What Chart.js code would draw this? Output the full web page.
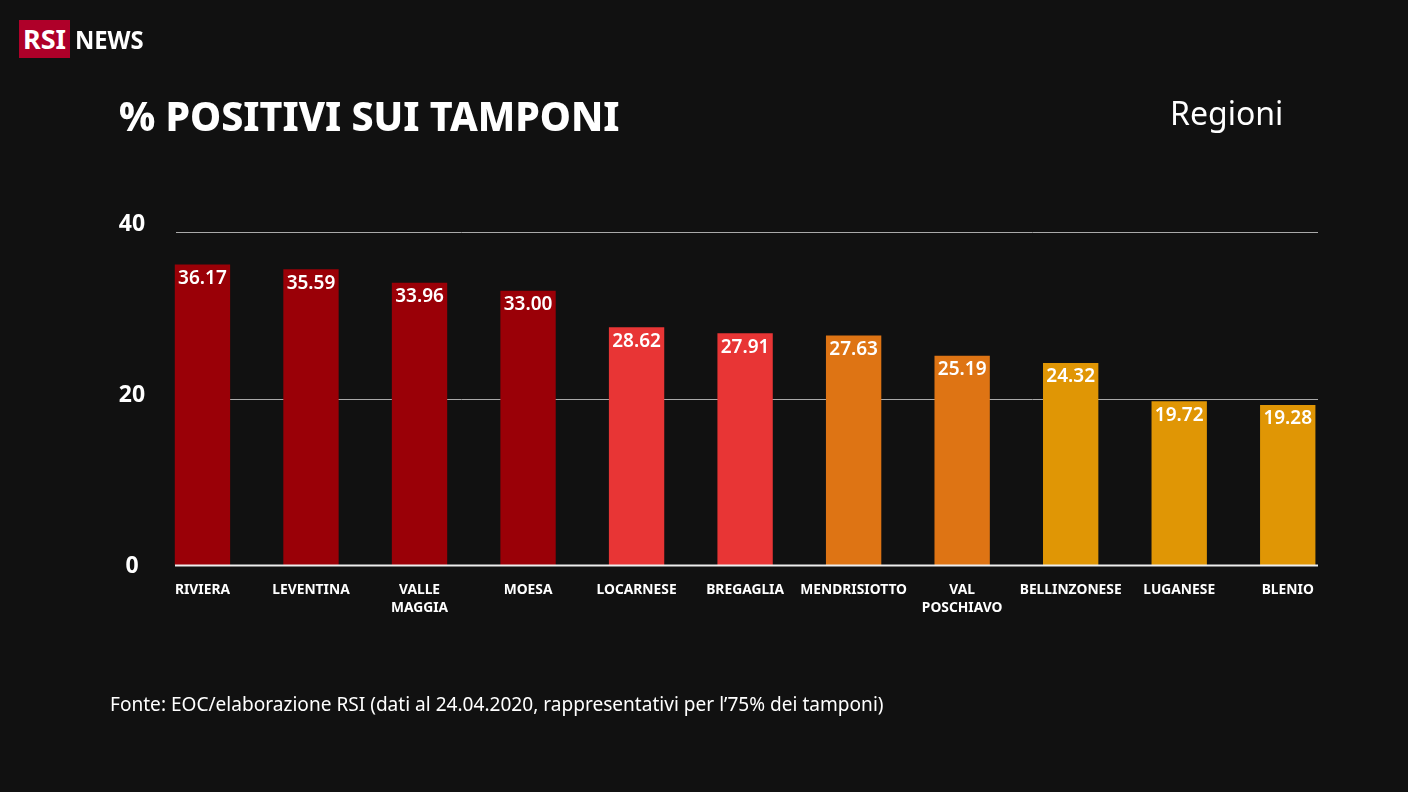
<!DOCTYPE html>
<html lang="it">
<head>
<meta charset="utf-8">
<title>% positivi sui tamponi</title>
<script src="https://cdn.jsdelivr.net/npm/chart.js@4/dist/chart.umd.min.js"></script>
<style>
    html, body { margin: 0; padding: 0; background: #111111; }
    #wrap { position: relative; width: 1408px; height: 792px; overflow: hidden; color: #ffffff; font-family: "Noto Sans", sans-serif; }
    #myChart { position: absolute; left: 0; top: 0; }
    .txt { position: absolute; white-space: nowrap; }
    #logo { left: 19px; top: 20px; width: 51px; height: 38px; background: #af0029; font-weight: 700; font-size: 27px; line-height: 38px; text-align: center; }
    #news { left: 75px; top: 22px; font-weight: 700; font-size: 25px; line-height: 34px; transform: scaleX(0.95); transform-origin: left; }
    #title { left: 119px; top: 88px; font-weight: 800; font-size: 41px; line-height: 54px; transform: scaleX(0.958); transform-origin: left; }
    #sub { left: 1170px; top: 92px; font-size: 32px; line-height: 42px; }
    #source { left: 110px; top: 691px; font-size: 19px; line-height: 26px; transform: scaleX(1.004); transform-origin: left; }
</style>
</head>
<body>
<div id="wrap">
    <canvas id="myChart" width="1408" height="792"></canvas>
    <div class="txt" id="logo">RSI</div>
    <div class="txt" id="news">NEWS</div>
    <div class="txt" id="title">% POSITIVI SUI TAMPONI</div>
    <div class="txt" id="sub">Regioni</div>
    <div class="txt" id="source">Fonte: EOC/elaborazione RSI (dati al 24.04.2020, rappresentativi per l’75% dei tamponi)</div>
</div>
<script>
const regions = ["RIVIERA", "LEVENTINA", ["VALLE", "MAGGIA"], "MOESA", "LOCARNESE", "BREGAGLIA", "MENDRISIOTTO", ["VAL", "POSCHIAVO"], "BELLINZONESE", "LUGANESE", "BLENIO"];
const positives = [36.17, 35.59, 33.96, 33.00, 28.62, 27.91, 27.63, 25.19, 24.32, 19.72, 19.28];
const barColors = ["#9a0007", "#9a0007", "#9a0007", "#9a0007", "#e83535", "#e83535", "#de7414", "#de7414", "#e09605", "#e09605", "#e09605"];

// griglia piu' corta dell'area del grafico, come nell'originale
const gridLines = {
    id: "gridLines",
    beforeDatasetsDraw(chart) {
        const { ctx, scales: { y } } = chart;
        ctx.save();
        y.ticks.forEach((tick) => {
            const py = Math.floor(y.getPixelForValue(tick.value)) + 0.5;
            if (tick.value === 0) return;
            ctx.strokeStyle = "#aaaaaa";
            ctx.lineWidth = 1;
            ctx.beginPath();
            ctx.moveTo(176, py);
            ctx.lineTo(1318, py);
            ctx.stroke();
        });
        ctx.restore();
    },
    afterDatasetsDraw(chart) {
        const { ctx, scales: { y } } = chart;
        const py = y.getPixelForValue(0);
        ctx.save();
        ctx.strokeStyle = "#eeeeee";
        ctx.lineWidth = 2;
        ctx.beginPath();
        ctx.moveTo(175, py);
        ctx.lineTo(1318, py);
        ctx.stroke();
        ctx.restore();
    },
};

// etichette y: nell'originale salgono sempre di piu' verso l'alto
const yLabels = {
    id: "yLabels",
    afterDraw(chart) {
        const { ctx, scales: { y } } = chart;
        ctx.save();
        ctx.fillStyle = "#ffffff";
        ctx.font = "700 23px 'Noto Sans'";
        ctx.textAlign = "center";
        ctx.textBaseline = "middle";
        y.ticks.forEach((tick) => {
            const shift = tick.value === 0 ? 1 : tick.value === 20 ? -3.5 : -8;
            ctx.fillText(tick.value, 132, y.getPixelForValue(tick.value) + shift);
        });
        ctx.restore();
    },
};

const barLabels = {
    id: "barLabels",
    afterDatasetsDraw(chart) {
        const { ctx } = chart;
        ctx.save();
        ctx.fillStyle = "#ffffff";
        ctx.font = "600 19px 'Noto Sans'";
        ctx.textAlign = "center";
        ctx.textBaseline = "middle";
        chart.getDatasetMeta(0).data.forEach((bar, i) => {
            ctx.fillText(positives[i].toFixed(2), bar.x, bar.y + 14);
        });
        ctx.restore();
    },
};

const ctx = document.getElementById("myChart").getContext("2d");
const myChart = new Chart(ctx, {
    type: "bar",
    data: {
        labels: regions,
        datasets: [
            {
                data: positives,
                backgroundColor: barColors,
                borderWidth: 0,
                barPercentage: 0.51,
                categoryPercentage: 1,
            },
        ],
    },
    options: {
        responsive: false,
        animation: false,
        layout: { padding: { top: 232.5, right: 66, bottom: 0, left: 0 } },
        plugins: {
            legend: { display: false },
            title: { display: false },
            tooltip: { enabled: false },
        },
        scales: {
            x: {
                afterFit(scale) { scale.height = 226.5; },
                grid: { display: false },
                border: { display: false },
                ticks: {
                    color: "#ffffff",
                    font: { family: "'Noto Sans'", size: 13.8, weight: "700", lineHeight: 1.31 },
                    padding: 7.5,
                    maxRotation: 0,
                    minRotation: 0,
                    autoSkip: false,
                },
            },
            y: {
                min: 0,
                max: 40,
                afterFit(scale) { scale.width = 148.2; },
                grid: { display: false },
                border: { display: false },
                ticks: {
                    stepSize: 20,
                    display: false,
                },
            },
        },
    },
    plugins: [gridLines, yLabels, barLabels],
});
</script>
</body>
</html>
